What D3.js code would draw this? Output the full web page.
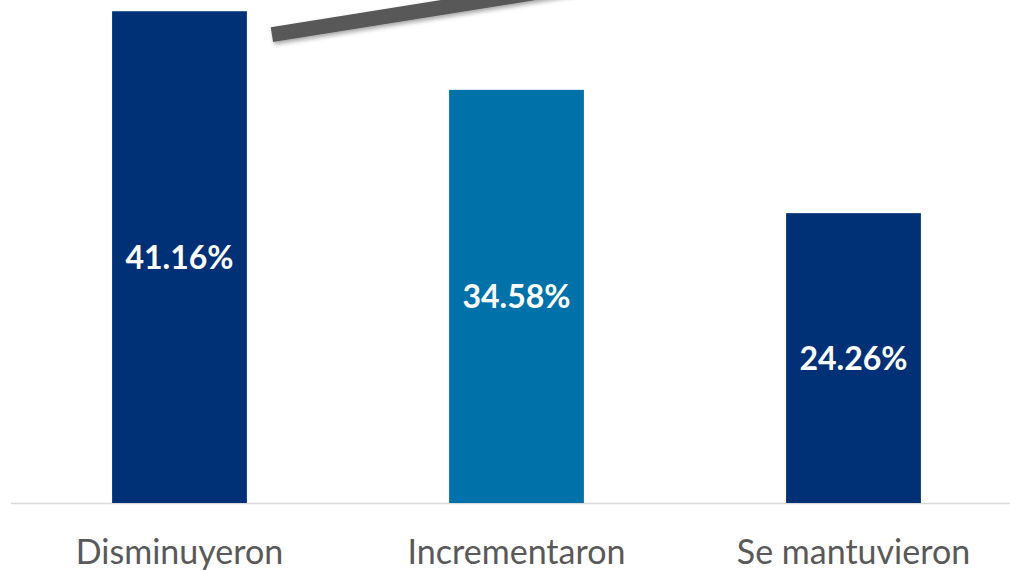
<!DOCTYPE html>
<html><head><meta charset="utf-8">
<script src="https://cdn.jsdelivr.net/npm/d3@7"></script>
<style>body{margin:0;background:#fff}svg{display:block}</style>
</head><body>
<svg id="c" width="1010" height="570"></svg>
<script>
const categories = ["Disminuyeron", "Incrementaron", "Se mantuvieron"];
const values = [41.16, 34.58, 24.26];
const colors = ["#003176", "#0072A9", "#003176"];
const valueLabels = ["41.16%", "34.58%", "24.26%"];

const svg = d3.select("#c");
const x = d3.scaleBand().domain(categories).range([11, 1022]).paddingInner(0.6).paddingOuter(0.3);
const y = d3.scaleLinear().domain([0, 42.1]).range([503, 0]);

const defs = svg.append("defs");
const f = defs.append("filter").attr("id","sh").attr("x","-10%").attr("y","-50%").attr("width","120%").attr("height","200%");
f.append("feDropShadow").attr("dx",1.5).attr("dy",2.5).attr("stdDeviation",2).attr("flood-color","#000").attr("flood-opacity",0.35);

// axis baseline
svg.append("line").attr("x1", 11).attr("x2", 1010).attr("y1", y(0)+0.5).attr("y2", y(0)+0.5)
  .attr("stroke", "#d9d9d9").attr("stroke-width", 1.5);

svg.selectAll("rect.bar").data(values).join("rect").attr("class","bar")
  .attr("x", (d,i) => x(categories[i]))
  .attr("width", x.bandwidth())
  .attr("y", d => y(d))
  .attr("height", d => y(0) - y(d))
  .attr("fill", (d,i) => colors[i]);

// decorative trend line
const x0 = x(categories[0]) + x.bandwidth() + 25;
svg.append("line")
  .attr("x1", x0).attr("y1", y(39.2))
  .attr("x2", x0 + 400).attr("y2", y(39.2) - 64)
  .attr("stroke", "#595959").attr("stroke-width", 15).attr("stroke-linecap","butt")
  .attr("filter","url(#sh)");

svg.selectAll("text.val").data(values).join("text").attr("class","val")
  .attr("x", (d,i) => x(categories[i]) + x.bandwidth()/2)
  .attr("y", d => (y(d) + y(0))/2)
  .attr("dy", "0.36em")
  .attr("text-anchor", "middle")
  .attr("fill", "#fff")
  .attr("font-family", "Lato, 'Open Sans', sans-serif")
  .attr("font-weight", "bold")
  .attr("font-size", 32)
  .text((d,i) => valueLabels[i]);

svg.selectAll("text.cat").data(categories).join("text").attr("class","cat")
  .attr("x", d => x(d) + x.bandwidth()/2)
  .attr("y", 564)
  .attr("text-anchor", "middle")
  .attr("fill", "#595959")
  .attr("font-family", "Lato, 'Open Sans', sans-serif")
  .attr("font-size", 34)
  .text(d => d);
</script>
</body></html>
